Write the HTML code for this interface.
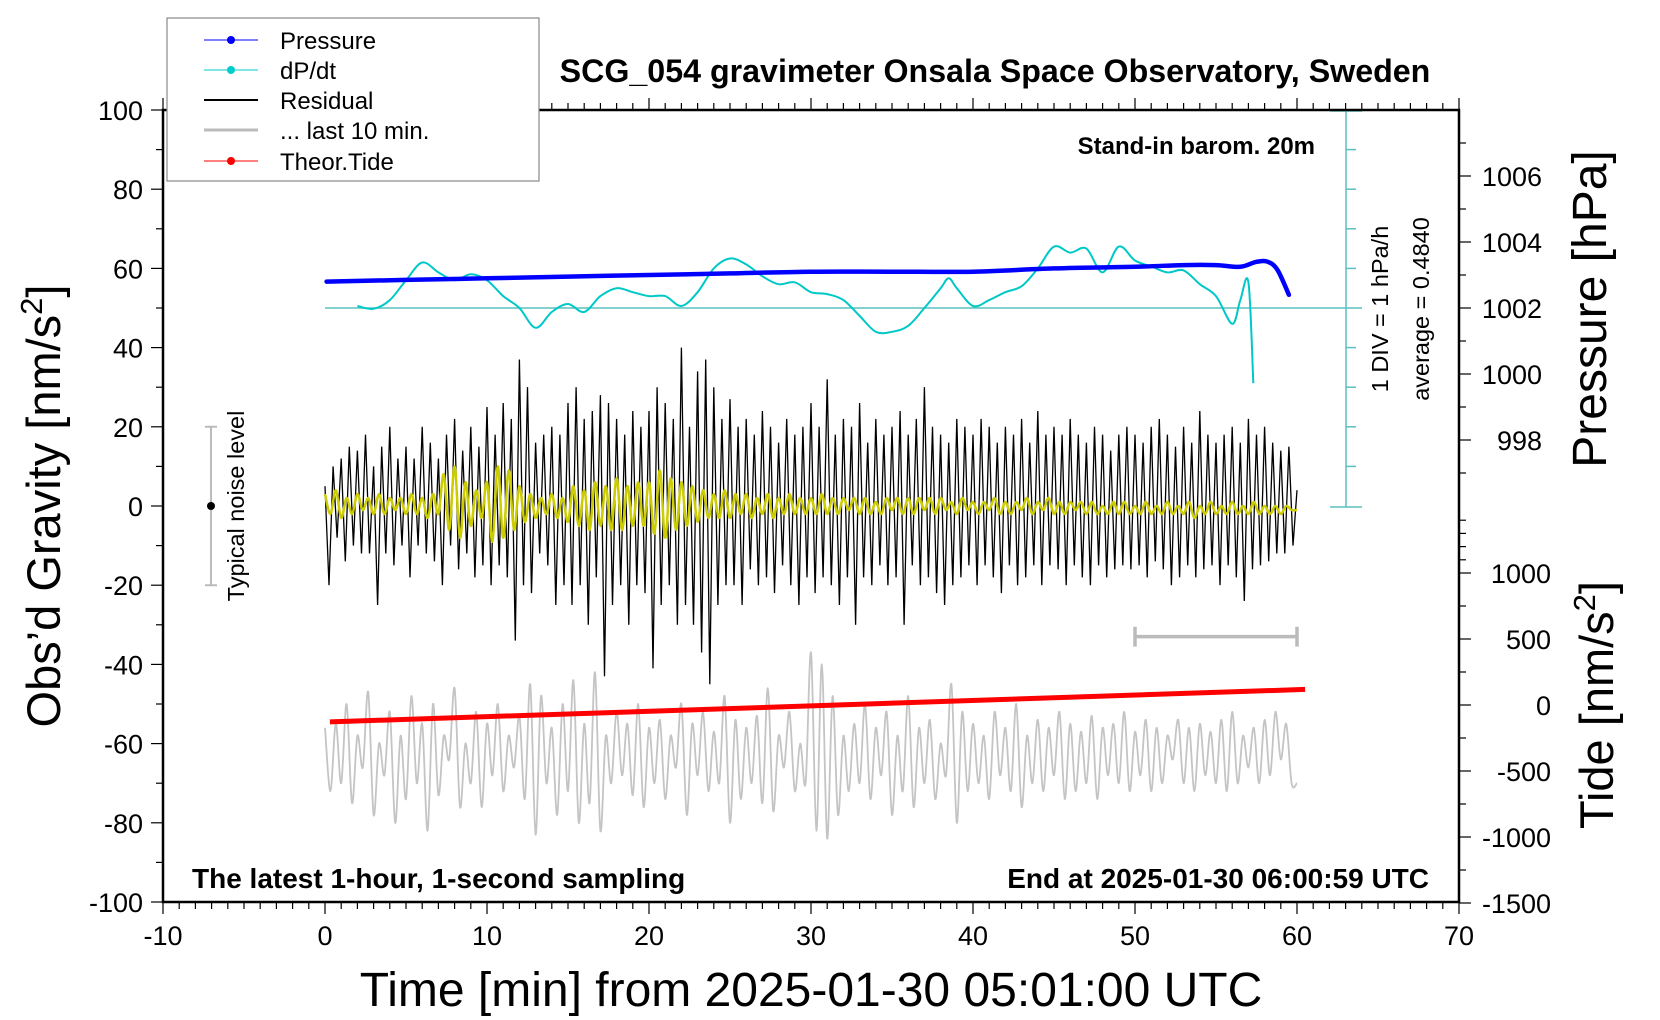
<!DOCTYPE html>
<html><head><meta charset="utf-8">
<style>
html,body{margin:0;padding:0;background:#fff;}
svg{display:block;font-family:"Liberation Sans",Arial,sans-serif;}
</style></head>
<body>
<svg id="chart" width="1660" height="1020" viewBox="0 0 1660 1020" xmlns="http://www.w3.org/2000/svg">
<rect width="1660" height="1020" fill="#fff"/>
<g id="marks"></g>
<g id="axes"></g>
<text x="995" y="82" font-size="32.2" font-weight="bold" text-anchor="middle">SCG_054 gravimeter Onsala Space Observatory, Sweden</text>
<text x="1315" y="154" font-size="24" font-weight="bold" text-anchor="end">Stand-in barom. 20m</text>
<text x="192" y="888" font-size="28" font-weight="bold">The latest 1-hour, 1-second sampling</text>
<text x="1429" y="888" font-size="28" font-weight="bold" text-anchor="end">End at 2025-01-30 06:00:59 UTC</text>
<text x="811" y="1006" font-size="48" text-anchor="middle">Time [min] from 2025-01-30 05:01:00 UTC</text>
<text transform="translate(60,506) rotate(-90)" font-size="47" text-anchor="middle">Obs’d Gravity [nm/s<tspan font-size="31" dy="-18">2</tspan><tspan dy="18">]</tspan></text>
<text transform="translate(1606,309) rotate(-90)" font-size="48" text-anchor="middle">Pressure [hPa]</text>
<text transform="translate(1613,705) rotate(-90)" font-size="47" text-anchor="middle">Tide [nm/s<tspan font-size="31" dy="-18">2</tspan><tspan dy="18">]</tspan></text>
<text transform="translate(1388,309) rotate(-90)" font-size="23.5" text-anchor="middle">1 DIV = 1 hPa/h</text>
<text transform="translate(1429,309) rotate(-90)" font-size="23.5" text-anchor="middle">average = 0.4840</text>
<text transform="translate(244,506) rotate(-90)" font-size="23.5" text-anchor="middle">Typical noise level</text>
<g>
<rect x="167" y="18" width="372" height="163" fill="#fff" stroke="#888" stroke-width="1.2"/>
<g><line x1="204" y1="40" x2="258" y2="40" stroke="#00f" stroke-width="1"/><circle cx="231" cy="40" r="4" fill="#00f"/><text x="280" y="49" font-size="24">Pressure</text></g>
<g><line x1="204" y1="70" x2="258" y2="70" stroke="#0cc" stroke-width="1"/><circle cx="231" cy="70" r="4" fill="#0cc"/><text x="280" y="79" font-size="24">dP/dt</text></g>
<g><line x1="204" y1="100" x2="258" y2="100" stroke="#000" stroke-width="2"/><text x="280" y="109" font-size="24">Residual</text></g>
<g><line x1="204" y1="130" x2="258" y2="130" stroke="#bbb" stroke-width="3"/><text x="280" y="139" font-size="24">... last 10 min.</text></g>
<g><line x1="204" y1="161" x2="258" y2="161" stroke="#f00" stroke-width="1"/><circle cx="231" cy="161" r="4" fill="#f00"/><text x="280" y="170" font-size="24">Theor.Tide</text></g>
</g>
</svg>
<script>
// ---- data ----
const xTicks = [-10,0,10,20,30,40,50,60,70];
const yTicks = [100,80,60,40,20,0,-20,-40,-60,-80,-100];
const pTicks = [1006,1004,1002,1000,998];
const tideTicks = [1000,500,0,-500,-1000,-1500];
const pressureT = [0.1,5,10,15,20,25,30,35,40,45,50,53,55,56.5,57.5,58.2,58.8,59.5];
const pressureV = [1002.8,1002.85,1002.9,1002.95,1003.0,1003.05,1003.1,1003.1,1003.1,1003.2,1003.25,1003.3,1003.3,1003.25,1003.4,1003.4,1003.15,1002.4];
const dpdtT = [2,3,4,5,6,7,8,9,10,11,12,13,14,15,16,17,18,19,20,21,22,23,24,25,26,27,28,29,30,31,32,33,34,35,36,37,38,38.5,39,40,41,42,43,44,45,46,47,48,49,50,51,52,53,54,55,56,56.5,57,57.3];
const dpdtV = [50.5,49.8,52,57,61.5,59,57,58.5,57,53,50,45,49,51,49,53,55,54,53,53,50.5,54,60,62.5,61,58,56,56.5,54,53.5,52,48,44,44,45.5,50,55,57.5,55,50.5,52,54,55.5,60,65.5,64,65,59,65.5,62,60.5,59,59.5,56,53,46,52,56.5,31];
const residual = [5,-20,10,-8,12,-14,15,-10,14,-12,18,-12,10,-25,15,-12,20,-15,12,-10,
15,-18,12,-10,20,-12,16,-14,12,-20,18,-10,22,-16,14,-12,20,-18,15,-15,
25,-20,18,-15,26,-18,22,-34,37,-20,30,-22,16,-12,18,-15,20,-25,18,-20,
26,-25,30,-20,22,-30,24,-18,28,-43,26,-25,22,-20,18,-30,24,-20,20,-22,
24,-41,30,-25,26,-20,22,-30,40,-25,20,-30,34,-37,37,-45,30,-25,22,-20,
27,-20,20,-25,22,-16,18,-20,24,-18,20,-22,16,-15,22,-20,18,-25,20,-18,
26,-22,20,-18,32,-20,18,-25,22,-18,20,-30,26,-18,16,-20,22,-15,18,-20,
20,-18,24,-30,18,-15,22,-20,30,-18,20,-22,18,-25,16,-20,22,-18,20,-15,
18,-20,22,-15,20,-18,16,-22,20,-15,18,-20,22,-18,16,-15,24,-20,18,-15,
20,-16,18,-20,22,-15,18,-18,16,-20,20,-15,18,-18,14,-16,18,-15,20,-16,
18,-15,16,-18,20,-14,22,-16,18,-20,15,-18,20,-15,16,-18,24,-16,18,-15,
16,-20,18,-15,20,-18,16,-24,22,-16,18,-15,20,-14,16,-12,14,-12,15,-10,4];
const filtered = [3,-2,4,-3,2,-2,3,-1,2,-2,3,-2,2,-1,2,
-2,3,-2,2,-3,3,-2,8,-6,10,-8,6,-5,4,-3,
6,-9,10,-8,9,-6,5,-4,3,-3,2,-2,3,-3,2,
-4,5,-5,4,-6,6,-5,5,-6,7,-6,5,-5,6,-5,
6,-7,9,-8,7,-6,6,-5,5,-4,4,-3,3,-3,4,
-3,3,-2,3,-3,2,-2,3,-3,2,-2,3,-2,2,-2,
2,-2,3,-2,2,-2,2,-1,2,-2,2,-2,1,-2,2,
-1,2,-2,2,-2,2,-1,2,-2,2,-1,1,-2,2,-1,
1,-2,1,-1,2,-2,1,-2,1,-1,2,-2,1,-1,2,
-2,1,-2,1,-1,1,-2,1,-2,0,-2,1,-2,1,-2,
0,-2,1,-2,0,-2,1,-2,0,-2,1,-3,0,-2,1,
-2,0,-2,1,-2,0,-2,1,-2,0,-2,0,-2,0,-1,-1];
const last10 = [-56,-72,-55,-70,-50,-75,-58,-66,-47,-78,-60,-68,-52,-80,-58,-74,-48,-70,-55,-82,
-50,-73,-58,-64,-46,-76,-60,-70,-52,-76,-55,-68,-50,-72,-58,-66,-53,-74,-45,-83,
-48,-70,-56,-78,-50,-72,-44,-80,-55,-75,-42,-82,-58,-70,-52,-68,-55,-73,-50,-76,
-56,-70,-54,-74,-58,-66,-50,-78,-55,-68,-52,-72,-57,-70,-48,-80,-54,-74,-56,-70,
-53,-75,-46,-77,-58,-66,-52,-72,-60,-70,-37,-82,-40,-84,-48,-78,-58,-72,-55,-70,
-50,-74,-56,-68,-52,-78,-58,-72,-48,-76,-56,-70,-54,-74,-60,-68,-45,-80,-52,-72,
-55,-70,-58,-74,-52,-68,-56,-72,-50,-76,-58,-70,-54,-72,-56,-68,-52,-74,-55,-72,
-57,-70,-53,-74,-56,-68,-55,-70,-52,-72,-57,-68,-54,-72,-56,-70,-58,-64,-54,-70,
-56,-72,-55,-68,-57,-70,-54,-72,-52,-70,-58,-66,-56,-70,-54,-68,-52,-64,-55,-70,-70];
const tideT = [0.3,60.5];
const tideV = [-128,118];
const dpdtBase = 50;

// ---- axis functions ----
const X0=163, X1=1459, Y0=110, Y1=902;
const xs = t => X0 + (t+10)/80*(X1-X0);
const ys = g => Y0 + (100-g)/200*(Y1-Y0);
const pToG = p => 50 + (p-1002)*(66/2)/((Y1-Y0)/200);
const ysP = p => ys(pToG(p));
const ysT = v => 705 - v*66/500;

const NS='http://www.w3.org/2000/svg';
const marks=document.getElementById('marks'), axes=document.getElementById('axes');
function mk(tag, attrs, parent){const e=document.createElementNS(NS,tag);for(const k in attrs)e.setAttribute(k,attrs[k]);parent.appendChild(e);return e;}
function pts(T,V,fy){return T.map((t,i)=>xs(t).toFixed(1)+','+fy(V[i]).toFixed(1)).join(' ');}
function smooth(T,V,fy){
  const P=T.map((t,i)=>[xs(t),fy(V[i])]);
  let d='M'+P[0][0].toFixed(1)+','+P[0][1].toFixed(1);
  for(let i=0;i<P.length-1;i++){
    const p0=P[Math.max(0,i-1)],p1=P[i],p2=P[i+1],p3=P[Math.min(P.length-1,i+2)];
    const c1=[p1[0]+(p2[0]-p0[0])/6,p1[1]+(p2[1]-p0[1])/6];
    const c2=[p2[0]-(p3[0]-p1[0])/6,p2[1]-(p3[1]-p1[1])/6];
    d+=`C${c1[0].toFixed(1)},${c1[1].toFixed(1)} ${c2[0].toFixed(1)},${c2[1].toFixed(1)} ${p2[0].toFixed(1)},${p2[1].toFixed(1)}`;
  }
  return d;
}

// dP/dt scale bar
const sb = mk('g',{stroke:'#5bbfbf','stroke-width':1.5,fill:'none'},marks);


mk('line',{x1:1346,y1:Y0,x2:1346,y2:507},sb);
mk('line',{x1:1330,y1:Y0+1,x2:1362,y2:Y0+1},sb);
mk('line',{x1:1330,y1:507,x2:1362,y2:507},sb);
for(let k=-4;k<=5;k++){ if(k===0) continue; const y=ys(dpdtBase+10*k); if(y<=Y0+2||y>=506) continue; mk('line',{x1:1346,y1:y,x2:1356,y2:y},sb);}
const bl = mk('line',{x1:xs(0),y1:ys(dpdtBase),x2:1362,y2:ys(dpdtBase),stroke:'#5bbfbf','stroke-width':1.5},marks);



// last 10 min (gray)
const gT = last10.map((v,i)=>i/3);
const g1 = mk('path',{d:smooth(gT,last10,ys),fill:'none',stroke:'#c4c4c4','stroke-width':1.8},marks);


const gb = mk('path',{d:`M${xs(50)},${ys(-30.5)}V${ys(-35.5)}M${xs(50)},${ys(-33)}H${xs(60)}M${xs(60)},${ys(-30.5)}V${ys(-35.5)}`,stroke:'#bbb','stroke-width':3.5,fill:'none'},marks);



// residual
const rT = residual.map((v,i)=>i/4);
const r1 = mk('polyline',{points:pts(rT,residual,ys),fill:'none',stroke:'#000','stroke-width':1.3},marks);


// filtered (yellow)
const fT = filtered.map((v,i)=>i/3);
const f1 = mk('path',{d:smooth(fT,filtered,ys),fill:'none',stroke:'#cccc00','stroke-width':2.5},marks);



// tide
const t1 = mk('polyline',{points:pts(tideT,tideV,ysT),fill:'none',stroke:'#f00','stroke-width':5},marks);


// dP/dt
const d1 = mk('path',{d:smooth(dpdtT,dpdtV,ys),fill:'none',stroke:'#00c8c8','stroke-width':2},marks);


// pressure
const p1 = mk('path',{d:smooth(pressureT,pressureV,ysP),fill:'none',stroke:'#00f','stroke-width':4.5,'stroke-linecap':'round'},marks);



// noise level indicator
const nz = mk('g',{},marks);


mk('path',{d:`M211,${ys(20)}V${ys(-20)}M205,${ys(20)}H217M205,${ys(-20)}H217`,stroke:'#bbb','stroke-width':2,fill:'none'},nz);
mk('circle',{cx:211,cy:ys(0),r:4,fill:'#000'},nz);

// axes frame
const fr = mk('path',{d:`M${X0},${Y0}H${X1}V${Y1}H${X0}Z`,fill:'none',stroke:'#000','stroke-width':2.5},axes);


// x ticks
for(let m=-10;m<=70;m++){const x=xs(m);const L=(m%10===0)?12:7;
 mk('line',{x1:x,y1:Y1,x2:x,y2:Y1+L,stroke:'#000','stroke-width':1.2},axes);
 mk('line',{x1:x,y1:Y0,x2:x,y2:Y0-L,stroke:'#000','stroke-width':1.2},axes);}
xTicks.forEach(v=>{const t=mk('text',{x:xs(v),y:945,'font-size':27,'text-anchor':'middle'},axes);t.textContent=v;
 
 });
// y ticks
for(let g=-100;g<=100;g+=10){const y=ys(g);mk('line',{x1:X0,y1:y,x2:X0-((g%20===0)?12:7),y2:y,stroke:'#000','stroke-width':1.2},axes);}
yTicks.forEach(v=>{const t=mk('text',{x:143,y:ys(v)+10,'font-size':27,'text-anchor':'end'},axes);t.textContent=v;
 
 });
// pressure ticks
for(let p=997;p<=1007;p++){const y=ysP(p);mk('line',{x1:X1,y1:y,x2:X1+((p%2===0)?12:7),y2:y,stroke:'#000','stroke-width':1.2},axes);}
pTicks.forEach(v=>{const t=mk('text',{x:1542,y:ysP(v)+10,'font-size':27,'text-anchor':'end'},axes);t.textContent=v;
 
 });
// tide ticks
for(let v=1400;v>=-1500;v-=(v>1000?100:250)){const y=ysT(v);if(y>Y1+1)continue;mk('line',{x1:X1,y1:y,x2:X1+((v%500===0)?12:7),y2:y,stroke:'#000','stroke-width':1.2},axes);}
tideTicks.forEach(v=>{const t=mk('text',{x:1551,y:ysT(v)+10,'font-size':27,'text-anchor':'end'},axes);t.textContent=v;
 
 });
</script>
</body></html>
